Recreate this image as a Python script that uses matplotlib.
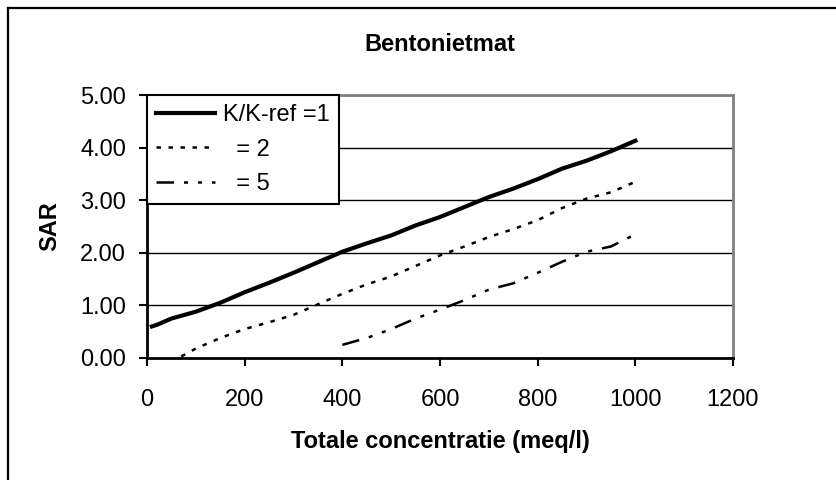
import matplotlib
matplotlib.use('Agg')
import matplotlib.pyplot as plt
from matplotlib.lines import Line2D

plt.rcParams['font.family'] = ['Liberation Sans', 'DejaVu Sans']

# data
x1 = [10, 20, 50, 100, 150, 200, 250, 300, 350, 400, 450, 500, 550, 600, 650,
      700, 750, 800, 850, 900, 950, 1000]
sar1 = [0.60, 0.63, 0.75, 0.88, 1.05, 1.25, 1.43, 1.62, 1.82, 2.02, 2.18, 2.33,
        2.52, 2.68, 2.87, 3.06, 3.22, 3.40, 3.60, 3.75, 3.93, 4.13]
x2 = [70, 100, 150, 200, 250, 300, 350, 400, 450, 500, 550, 600, 650, 700,
      750, 800, 850, 900, 950, 1000]
sar2 = [0.03, 0.18, 0.38, 0.55, 0.68, 0.82, 1.02, 1.22, 1.40, 1.55, 1.75, 1.95,
        2.12, 2.30, 2.45, 2.62, 2.85, 3.03, 3.15, 3.35]
x5 = [400, 450, 500, 550, 600, 650, 700, 750, 800, 850, 900, 950, 1000]
sar5 = [0.25, 0.38, 0.55, 0.75, 0.92, 1.10, 1.30, 1.42, 1.62, 1.83, 2.02, 2.12, 2.35]
labels = ['K/K-ref =1', '  = 2', '  = 5']
xticks = [0, 200, 400, 600, 800, 1000, 1200]
yticks = [0, 1, 2, 3, 4, 5]

W, H = 837, 480
fig = plt.figure(figsize=(W / 100, H / 100), dpi=100)
fig.patch.set_facecolor('white')
ax = fig.add_axes([147 / W, 1 - 358 / H, (733 - 147) / W, (358 - 95) / H])

ax.plot(x1, sar1, color='black', lw=3.0, label=labels[0])
ax.plot(x2, sar2, color='black', lw=1.8, linestyle=(0, (1.8, 3.0)), label=labels[1])
ax.plot(x5, sar5, color='black', lw=1.8, linestyle=(0, (7, 4, 1.6, 4, 1.6, 4)), label=labels[2])

ax.set_xlim(0, 1200)
ax.set_ylim(0, 5)
ax.set_xticks(xticks)
ax.set_yticks(yticks)
ax.set_yticklabels([f'{v:.2f}' for v in yticks])
ax.tick_params(axis='both', direction='out', length=6, width=1.5, labelsize=17)
ax.tick_params(axis='x', pad=16)
ax.tick_params(axis='y', pad=9)
ax.yaxis.grid(True, color='black', lw=1.0)
ax.set_axisbelow(True)

for s in ['left', 'bottom']:
    ax.spines[s].set_linewidth(2)
    ax.spines[s].set_color('black')
for s in ['top', 'right']:
    ax.spines[s].set_linewidth(2)
    ax.spines[s].set_color('#808080')

ax.set_xlabel('Totale concentratie (meq/l)', fontsize=17, fontweight='bold', labelpad=14)
ax.set_ylabel('SAR', fontsize=17, fontweight='bold', labelpad=14)
ax.set_title('Bentonietmat', fontsize=17, fontweight='bold', pad=32)

leg = ax.legend(loc='upper left', bbox_to_anchor=(0, 1), borderaxespad=0,
                fontsize=17, handlelength=2.5, handletextpad=0.3,
                labelspacing=0.52, borderpad=0.4, fancybox=False,
                framealpha=1, edgecolor='black', facecolor='white')
leg.get_frame().set_linewidth(1.5)

# outer chart border (left and top are visible in the reference)
fig.add_artist(Line2D([8.5 / W, 8.5 / W], [0, 1 - 7.5 / H], transform=fig.transFigure,
                      color='black', lw=1.6))
fig.add_artist(Line2D([8.5 / W, 1], [1 - 7.5 / H, 1 - 7.5 / H], transform=fig.transFigure,
                      color='black', lw=1.6))

fig.savefig('out.png', dpi=100, facecolor='white')
